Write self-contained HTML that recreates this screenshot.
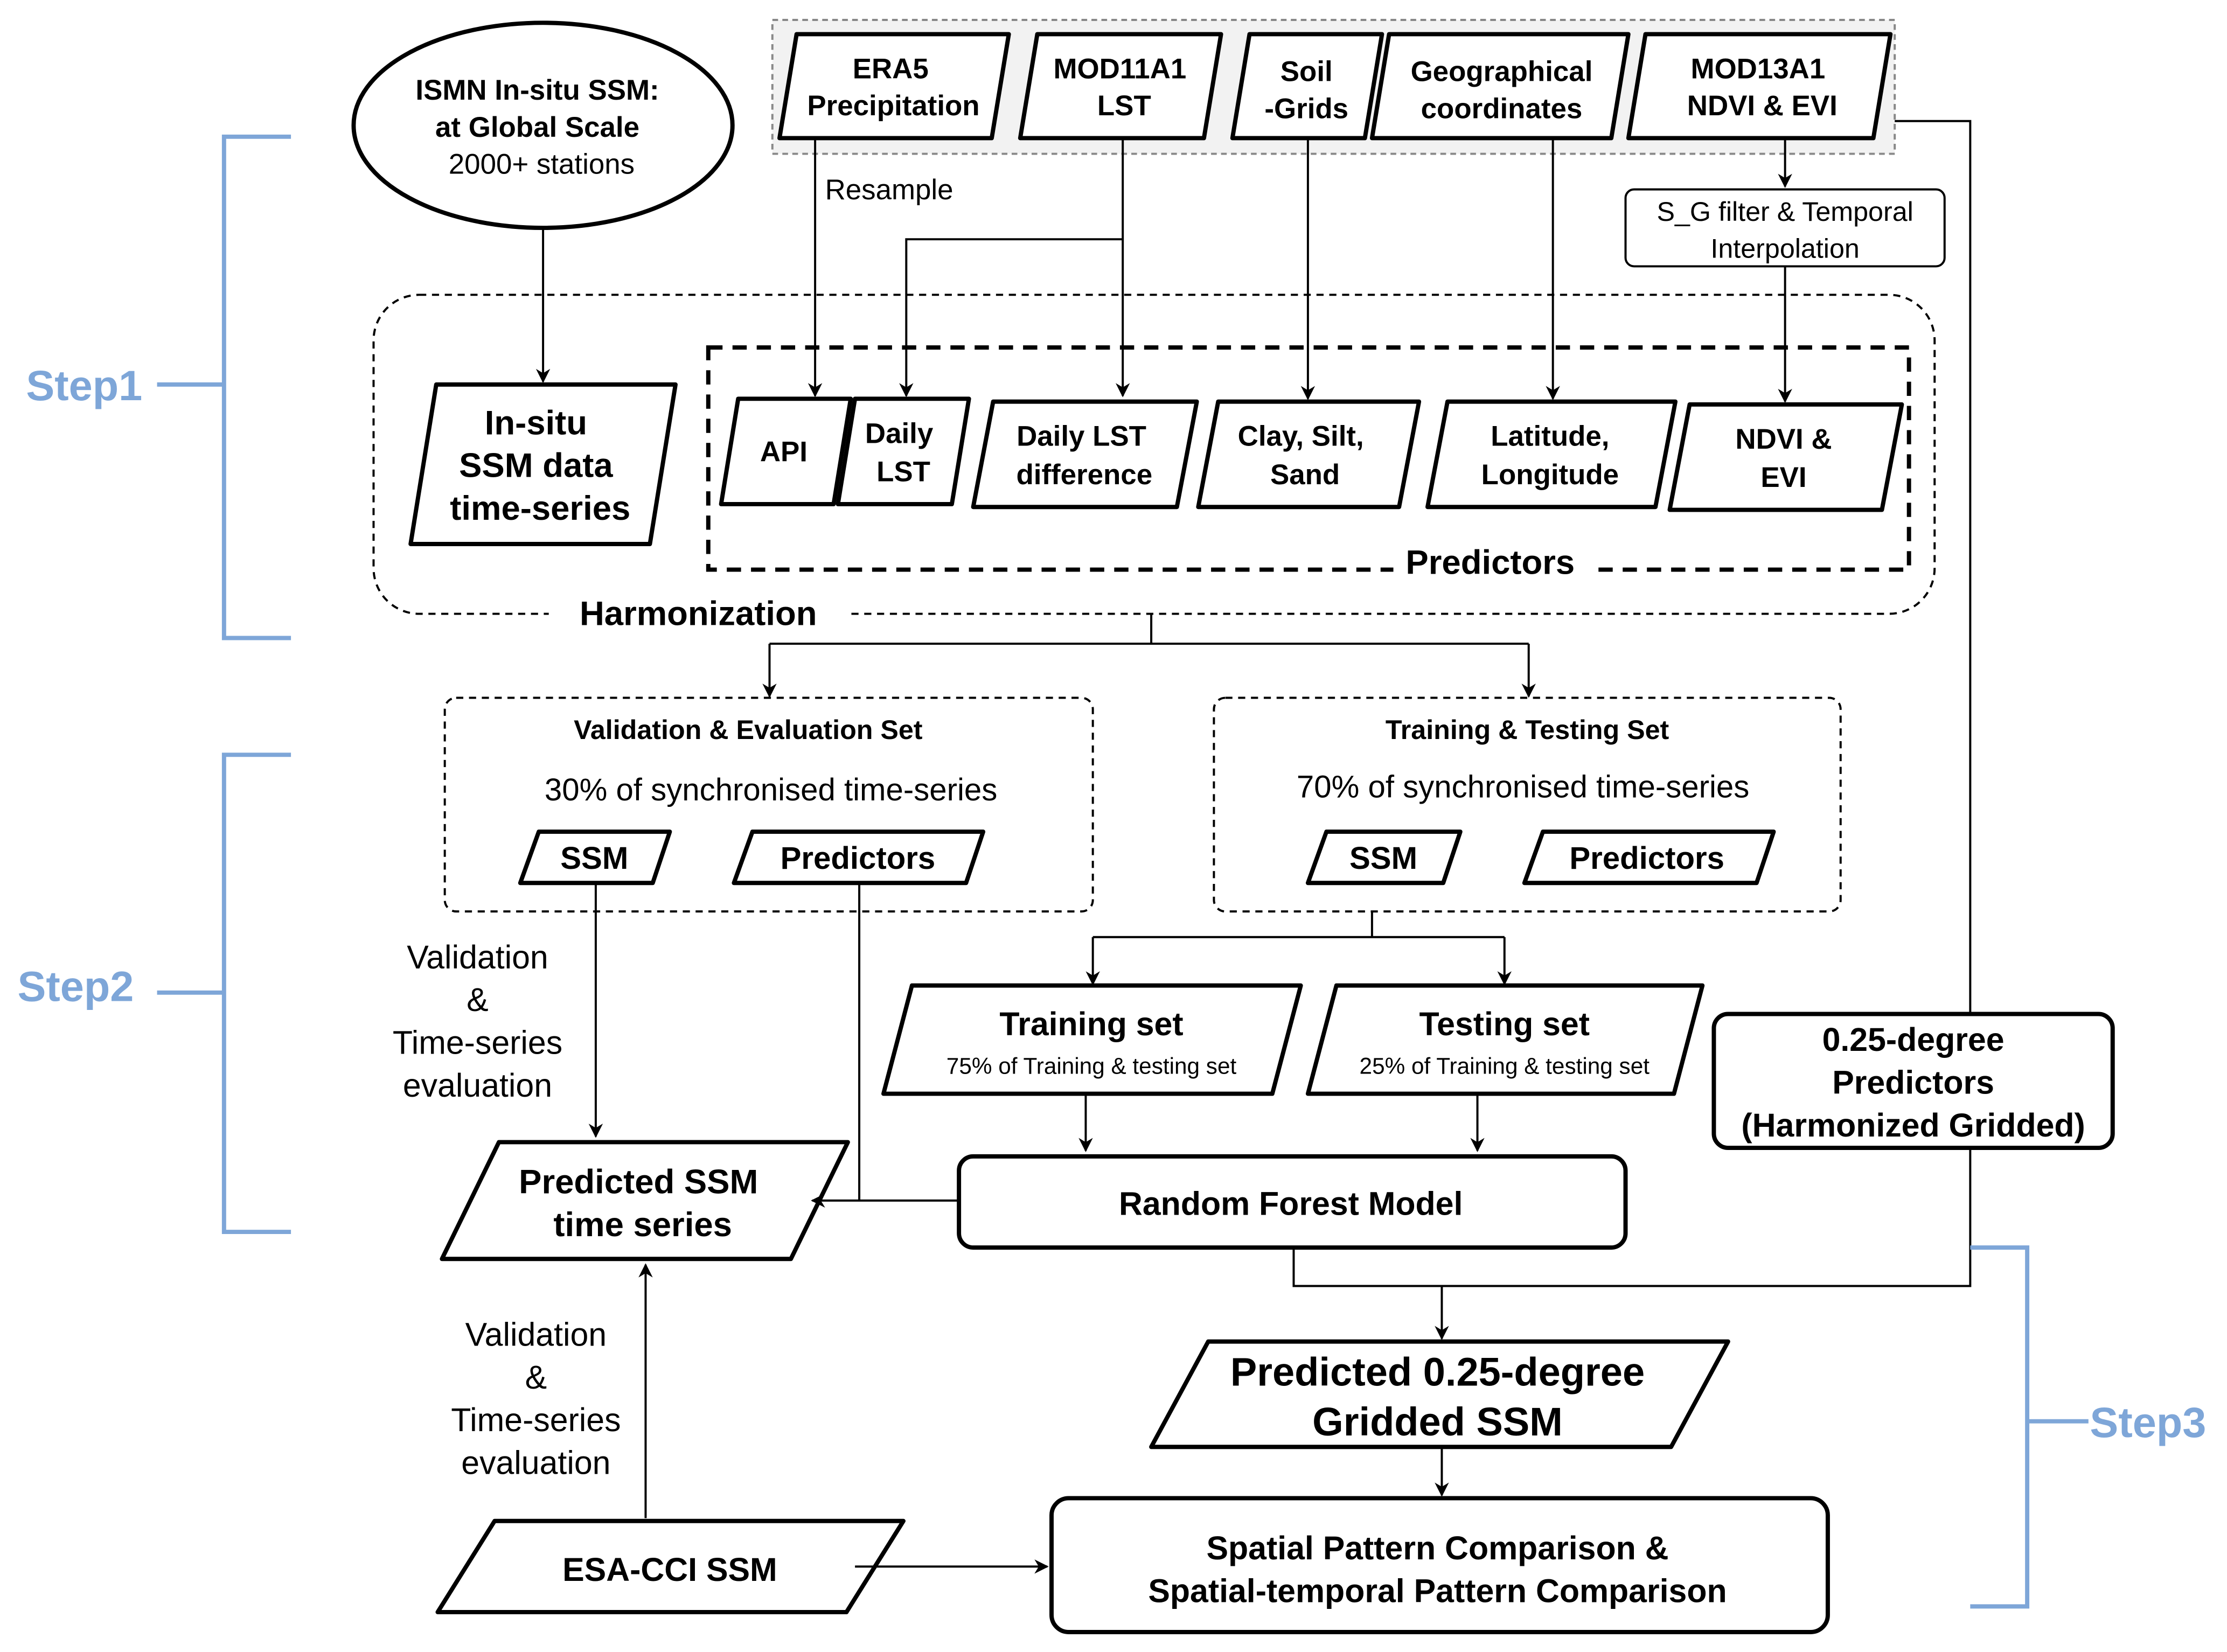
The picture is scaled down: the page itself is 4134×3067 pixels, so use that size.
<!DOCTYPE html>
<html><head><meta charset="utf-8"><style>
html,body{margin:0;padding:0;background:#fff;}
svg{display:block;}
text{font-family:"Liberation Sans",Arial,sans-serif;fill:#000;}
.b{font-weight:bold;}
</style></head><body>
<svg width="4134" height="3067" viewBox="0 0 1563 1160" xmlns="http://www.w3.org/2000/svg">
<defs>
<marker id="a" markerWidth="10" markerHeight="10" refX="9" refY="5" orient="auto" markerUnits="userSpaceOnUse">
<path d="M0,0 L10,5 L0,10 L3,5 z" fill="#000"/></marker>
</defs>
<rect width="1563" height="1160" fill="#fff"/>
<!-- top gray box -->
<rect x="542" y="14" width="788" height="94" fill="#f2f2f2" stroke="#888" stroke-width="1.5" stroke-dasharray="4,3"/>
<!-- harmonization -->
<rect x="262" y="207" width="1096" height="224" rx="32" fill="none" stroke="#000" stroke-width="1.5" stroke-dasharray="5,4"/>
<rect x="385" y="418" width="210" height="26" fill="#fff"/>
<text x="490" y="439" font-size="24" class="b" text-anchor="middle">Harmonization</text>
<rect x="497" y="244" width="843" height="156" fill="none" stroke="#000" stroke-width="3" stroke-dasharray="10,7"/>
<rect x="978" y="380" width="138" height="26" fill="#fff"/>
<text x="1046" y="403" font-size="24" class="b" text-anchor="middle">Predictors</text>

<g fill="none" stroke="#000" stroke-width="3" stroke-linejoin="round">
<ellipse cx="381" cy="88" rx="133" ry="72" fill="#fff"/>
<polygon points="559,24 708,24 696,97 547,97" fill="#fff"/>
<polygon points="728,24 857,24 845,97 716,97" fill="#fff"/>
<polygon points="877,24 970,24 958,97 865,97" fill="#fff"/>
<polygon points="975,24 1143,24 1131,97 963,97" fill="#fff"/>
<polygon points="1155,24 1327,24 1315,97 1143,97" fill="#fff"/>
<polygon points="306,270 474,270 456,382 288,382" fill="#fff"/>
<polygon points="518,280 597,280 585,354 506,354" fill="#fff"/>
<polygon points="600,280 680,280 668,354 588,354" fill="#fff"/>
<polygon points="697,282 840,282 826,356 683,356" fill="#fff"/>
<polygon points="855,282 996,282 982,356 841,356" fill="#fff"/>
<polygon points="1016,282 1176,282 1162,356 1002,356" fill="#fff"/>
<polygon points="1186,284 1335,284 1321,358 1172,358" fill="#fff"/>
<polygon points="378,584 470,584 458,620 365,620" fill="#fff"/>
<polygon points="528,584 690,584 678,620 515,620" fill="#fff"/>
<polygon points="931,584 1025,584 1013,620 918,620" fill="#fff"/>
<polygon points="1083,584 1245,584 1233,620 1070,620" fill="#fff"/>
<polygon points="640,692 913,692 893,768 620,768" fill="#fff"/>
<polygon points="938,692 1195,692 1175,768 918,768" fill="#fff"/>
<rect x="673" y="812" width="468" height="64" rx="10" fill="#fff"/>
<rect x="1203" y="712" width="280" height="94" rx="10" fill="#fff"/>
<polygon points="350,802 595,802 555,884 310,884" fill="#fff"/>
<polygon points="347,1068 634,1068 594,1132 307,1132" fill="#fff"/>
<polygon points="848,942 1213,942 1173,1016 808,1016" fill="#fff"/>
<rect x="738" y="1052" width="545" height="94" rx="12" fill="#fff"/>
</g>
<rect x="1141" y="133" width="224" height="54" rx="6" fill="#fff" stroke="#000" stroke-width="1.5"/>
<rect x="312" y="490" width="455" height="150" rx="8" fill="none" stroke="#000" stroke-width="1.5" stroke-dasharray="5,4"/>
<rect x="852" y="490" width="440" height="150" rx="8" fill="none" stroke="#000" stroke-width="1.5" stroke-dasharray="5,4"/>

<!-- connectors -->
<g fill="none" stroke="#000" stroke-width="1.5">
<path d="M381,160 V268" marker-end="url(#a)"/>
<path d="M572,97 V278" marker-end="url(#a)"/>
<path d="M788,97 V278" marker-end="url(#a)"/>
<path d="M788,168 H636 V278" marker-end="url(#a)"/>
<path d="M918,97 V280" marker-end="url(#a)"/>
<path d="M1090,97 V280" marker-end="url(#a)"/>
<path d="M1253,97 V131" marker-end="url(#a)"/>
<path d="M1253,187 V282" marker-end="url(#a)"/>
<path d="M1330,85 H1383 V712"/>
<path d="M1383,806 V903 H908 V876"/>
<path d="M1012,903 V940" marker-end="url(#a)"/>
<path d="M808,431 V452"/>
<path d="M540,452 H1073"/>
<path d="M540,452 V489" marker-end="url(#a)"/>
<path d="M1073,452 V489" marker-end="url(#a)"/>
<path d="M963,640 V658"/>
<path d="M767,658 H1056"/>
<path d="M767,658 V691" marker-end="url(#a)"/>
<path d="M1056,658 V691" marker-end="url(#a)"/>
<path d="M762,768 V808" marker-end="url(#a)"/>
<path d="M1037,768 V808" marker-end="url(#a)"/>
<path d="M418,620 V798" marker-end="url(#a)"/>
<path d="M603,620 V843"/>
<path d="M673,843 H570" marker-end="url(#a)"/>
<path d="M453,1066 V888" marker-end="url(#a)"/>
<path d="M600,1100 H735" marker-end="url(#a)"/>
<path d="M1012,1016 V1050" marker-end="url(#a)"/>
</g>

<!-- steps -->
<g fill="none" stroke="#7ea6d8" stroke-width="3">
<path d="M204,96 H157 V448 H204"/><path d="M110,270 H157"/>
<path d="M204,530 H157 V865 H204"/><path d="M110,697 H157"/>
<path d="M1383,876 H1423 V1128 H1383"/><path d="M1423,998 H1466"/>
</g>
<g font-size="30" class="b" style="fill:#7ea6d8">
<text x="18" y="281" style="fill:#7ea6d8">Step1</text>
<text x="12" y="703" style="fill:#7ea6d8">Step2</text>
<text x="1467" y="1009" style="fill:#7ea6d8">Step3</text>
</g>

<!-- texts -->
<g text-anchor="middle">
<text x="377" y="70" font-size="20" class="b">ISMN In-situ SSM:</text>
<text x="377" y="96" font-size="20" class="b">at Global Scale</text>
<text x="380" y="122" font-size="20">2000+ stations</text>
<text x="625" y="55" font-size="20" class="b">ERA5</text>
<text x="627" y="81" font-size="20" class="b">Precipitation</text>
<text x="786" y="55" font-size="20" class="b">MOD11A1</text>
<text x="789" y="81" font-size="20" class="b">LST</text>
<text x="917" y="57" font-size="20" class="b">Soil</text>
<text x="917" y="83" font-size="20" class="b">-Grids</text>
<text x="1054" y="57" font-size="20" class="b">Geographical</text>
<text x="1054" y="83" font-size="20" class="b">coordinates</text>
<text x="1234" y="55" font-size="20" class="b">MOD13A1</text>
<text x="1237" y="81" font-size="20" class="b">NDVI &amp; EVI</text>
<text x="1253" y="155" font-size="19">S_G filter &amp; Temporal</text>
<text x="1253" y="181" font-size="19">Interpolation</text>
<text x="376" y="305" font-size="24" class="b">In-situ</text>
<text x="376" y="335" font-size="24" class="b">SSM data</text>
<text x="379" y="365" font-size="24" class="b">time-series</text>
<text x="550" y="324" font-size="20" class="b">API</text>
<text x="631" y="311" font-size="20" class="b">Daily</text>
<text x="634" y="338" font-size="20" class="b">LST</text>
<text x="759" y="313" font-size="20" class="b">Daily LST</text>
<text x="761" y="340" font-size="20" class="b">difference</text>
<text x="913" y="313" font-size="20" class="b">Clay, Silt,</text>
<text x="916" y="340" font-size="20" class="b">Sand</text>
<text x="1088" y="313" font-size="20" class="b">Latitude,</text>
<text x="1088" y="340" font-size="20" class="b">Longitude</text>
<text x="1252" y="315" font-size="20" class="b">NDVI &amp;</text>
<text x="1252" y="342" font-size="20" class="b">EVI</text>
<text x="525" y="519" font-size="19" class="b">Validation &amp; Evaluation Set</text>
<text x="541" y="562" font-size="22">30% of synchronised time-series</text>
<text x="417" y="610" font-size="22" class="b">SSM</text>
<text x="602" y="610" font-size="22" class="b">Predictors</text>
<text x="1072" y="519" font-size="19" class="b">Training &amp; Testing Set</text>
<text x="1069" y="560" font-size="22">70% of synchronised time-series</text>
<text x="971" y="610" font-size="22" class="b">SSM</text>
<text x="1156" y="610" font-size="22" class="b">Predictors</text>
<text x="766" y="727" font-size="23" class="b">Training set</text>
<text x="766" y="754" font-size="16">75% of Training &amp; testing set</text>
<text x="1056" y="727" font-size="23" class="b">Testing set</text>
<text x="1056" y="754" font-size="16">25% of Training &amp; testing set</text>
<text x="906" y="853" font-size="23" class="b">Random Forest Model</text>
<text x="1343" y="738" font-size="23" class="b">0.25-degree</text>
<text x="1343" y="768" font-size="23" class="b">Predictors</text>
<text x="1343" y="798" font-size="23" class="b">(Harmonized Gridded)</text>
<text x="448" y="838" font-size="24" class="b">Predicted SSM</text>
<text x="451" y="868" font-size="24" class="b">time series</text>
<text x="335" y="680" font-size="23">Validation</text>
<text x="335" y="710" font-size="23">&amp;</text>
<text x="335" y="740" font-size="23">Time-series</text>
<text x="335" y="770" font-size="23">evaluation</text>
<text x="376" y="945" font-size="23">Validation</text>
<text x="376" y="975" font-size="23">&amp;</text>
<text x="376" y="1005" font-size="23">Time-series</text>
<text x="376" y="1035" font-size="23">evaluation</text>
<text x="470" y="1110" font-size="23" class="b">ESA-CCI SSM</text>
<text x="1009" y="973" font-size="28" class="b">Predicted 0.25-degree</text>
<text x="1009" y="1008" font-size="28" class="b">Gridded SSM</text>
<text x="1009" y="1095" font-size="23" class="b">Spatial Pattern Comparison &amp;</text>
<text x="1009" y="1125" font-size="23" class="b">Spatial-temporal Pattern Comparison</text>
</g>
<text x="579" y="140" font-size="20">Resample</text>
</svg>
</body></html>
